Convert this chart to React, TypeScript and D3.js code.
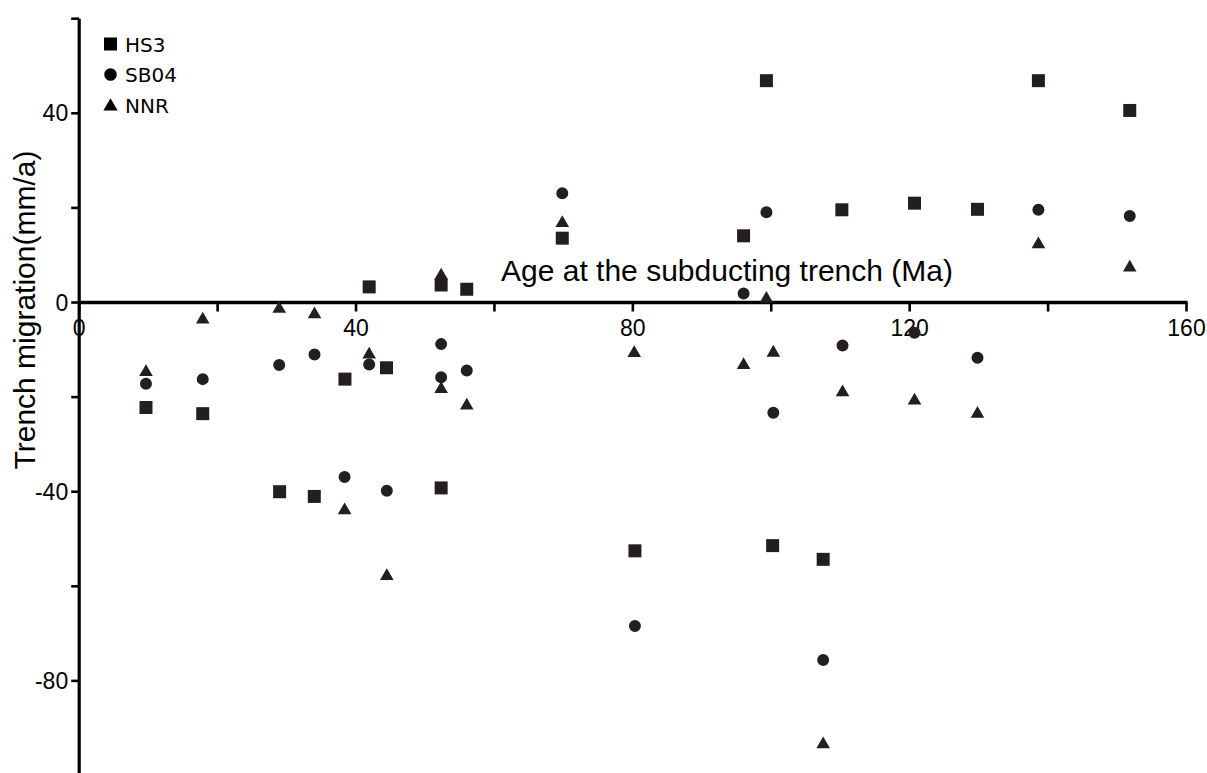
import React from "react";
import * as d3 from "d3";

const hs3X = [9.65, 17.85, 28.96, 33.97, 38.4, 41.9, 44.4, 52.3, 52.3, 56.0, 69.8, 80.3, 96.0, 99.3, 100.2, 107.5, 110.2, 120.7, 129.8, 138.6, 151.8];
const hs3Y = [-22.2, -23.5, -40.0, -41.0, -16.2, 3.3, -13.8, 3.7, -39.2, 2.8, 13.6, -52.5, 14.1, 46.9, -51.4, -54.3, 19.6, 21.0, 19.7, 46.9, 40.6];

const sb04X = [9.65, 17.85, 28.9, 34.0, 38.35, 41.9, 44.45, 52.3, 52.3, 56.0, 69.8, 80.3, 96.0, 99.3, 100.3, 107.5, 110.3, 120.7, 129.8, 138.6, 151.8];
const sb04Y = [-17.2, -16.2, -13.2, -11.0, -36.9, -13.1, -39.8, -8.8, -15.8, -14.4, 23.1, -68.4, 1.9, 19.1, -23.3, -75.6, -9.1, -6.4, -11.7, 19.6, 18.3];

const nnrX = [9.65, 17.85, 28.9, 34.0, 38.35, 41.9, 44.45, 52.3, 52.3, 56.0, 69.8, 80.2, 96.0, 99.3, 100.3, 107.5, 110.3, 120.7, 129.8, 138.6, 151.8];
const nnrY = [-14.4, -3.3, -1.0, -2.2, -43.6, -10.7, -57.5, 6.0, -18.0, -21.5, 17.1, -10.4, -12.9, 1.1, -10.3, -93.1, -18.7, -20.4, -23.2, 12.6, 7.7];

const seriesNames = ["HS3", "SB04", "NNR"];
const xTicks = [0, 20, 40, 60, 80, 100, 120, 140, 160];
const xTickLabels = [0, 40, 80, 120, 160];
const yTicks = [60, 40, 20, 0, -20, -40, -60, -80, -100];
const yTickLabels = [40, 0, -40, -80];

const W = 1207;
const H = 773;
const MARK = "#231f20";

export default function App() {
  const x = d3.scaleLinear().domain([0, 160]).range([79.2, 1186.5]);
  const y = d3.scaleLinear().domain([-100, 60]).range([775.5, 18.7]);

  const sq = d3.symbol().type(d3.symbolSquare).size(169)() as string;
  const ci = d3.symbol().type(d3.symbolCircle).size(113)() as string;
  const tr = d3.symbol().type(d3.symbolTriangle).size(80)() as string;
  const shapes = [sq, ci, tr];

  const series = [
    { xs: hs3X, ys: hs3Y, path: sq, dy: 0 },
    { xs: sb04X, ys: sb04Y, path: ci, dy: 0 },
    { xs: nnrX, ys: nnrY, path: tr, dy: 1.5 },
  ];

  const x0 = x(0);
  const y0 = y(0);
  const tickFont = "'Liberation Sans', Arial, sans-serif";

  return (
    <div style={{ position: "absolute", left: 0, top: 0 }}>
      <svg width={W} height={H} style={{ display: "block", background: "#fff" }}>
        {/* axes */}
        <line x1={x0} x2={x0} y1={y(60)} y2={H + 5} stroke="#000" strokeWidth={3.2} />
        <line x1={x0} x2={x(160) + 1} y1={y0} y2={y0} stroke="#000" strokeWidth={3.5} />
        {xTicks.map((t) => (
          <line key={"xt" + t} x1={x(t)} x2={x(t)} y1={y0} y2={y0 + 9} stroke="#000" strokeWidth={2.6} />
        ))}
        {yTicks.map((t) => (
          <line key={"yt" + t} x1={x0 - 8} x2={x0} y1={y(t)} y2={y(t)} stroke="#000" strokeWidth={2.6} />
        ))}
        {xTickLabels.map((t) => (
          <text key={"xl" + t} x={x(t)} y={y0 + 33} textAnchor="middle" fontFamily={tickFont} fontSize={23} fill="#000">
            {t}
          </text>
        ))}
        {yTickLabels.map((t) => (
          <text key={"yl" + t} x={x0 - 11} y={y(t) + 8} textAnchor="end" fontFamily={tickFont} fontSize={23} fill="#000">
            {t}
          </text>
        ))}
        {/* axis titles */}
        <text x={727} y={281} textAnchor="middle" fontFamily={tickFont} fontSize={30} fill="#000">
          Age at the subducting trench (Ma)
        </text>
        <text
          transform={`translate(35,310) rotate(-90)`}
          textAnchor="middle"
          fontFamily={tickFont}
          fontSize={30}
          fill="#000"
        >
          Trench migration(mm/a)
        </text>
        {/* markers */}
        {series.map((s, si) =>
          s.xs.map((xv, i) => (
            <path
              key={si + "-" + i}
              d={s.path}
              transform={`translate(${x(xv)},${y(s.ys[i]) + s.dy})`}
              fill={MARK}
            />
          ))
        )}
        {/* legend */}
        {seriesNames.map((n, i) => (
          <g key={n} transform={`translate(0,${44 + i * 30.5})`}>
            <path d={shapes[i]} transform={`translate(110.5,${i === 2 ? 1.5 : 0}) scale(${i === 0 ? 1.0 : 1.05})`} fill="#000" />
            <text x={125} y={7.5} fontFamily="'DejaVu Sans', sans-serif" fontSize={20} fill="#000">
              {n}
            </text>
          </g>
        ))}
      </svg>
    </div>
  );
}
